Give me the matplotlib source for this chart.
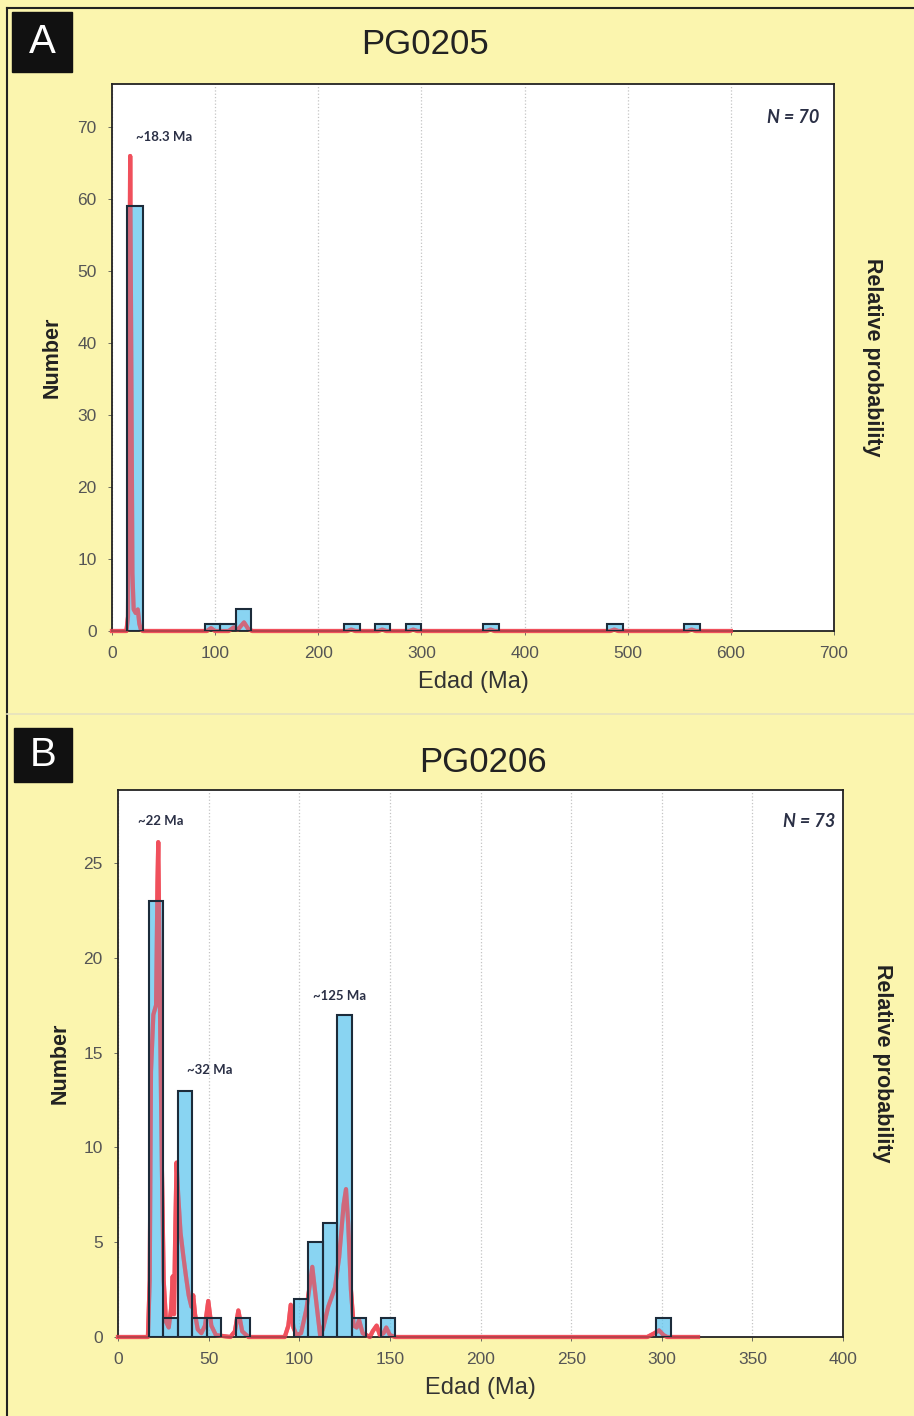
import matplotlib.pyplot as plt
from matplotlib.patches import Rectangle
from matplotlib.lines import Line2D

W, H = 914, 1416

# Panel A - PG0205 (bins of 15 Ma)
a_bin_left = [15, 90, 105, 120, 225, 255, 285, 360, 480, 555]
a_counts = [59, 1, 1, 3, 1, 1, 1, 1, 1, 1]
a_curve_age = [0, 14, 15.5, 16.5, 17.6, 18.8, 19.8, 21, 23, 25, 26.5, 28, 30,
               92, 96, 100, 113, 118, 122, 128, 132, 136,
               228, 232, 236, 258, 262, 266, 288, 292, 296,
               363, 367, 371, 483, 487, 491, 558, 562, 566, 600]
a_curve_prob = [0, 0, 2, 30, 66, 35, 8, 3, 2.5, 3, 1, 0.2, 0,
                0, 0.4, 0, 0, 0.5, 0.2, 1.2, 0.3, 0,
                0, 0.2, 0, 0, 0.2, 0, 0, 0.2, 0,
                0, 0.2, 0, 0, 0.2, 0, 0, 0.2, 0, 0]
a_peak_labels = ["~18.3 Ma"]
a_peak_x = [51]
a_peak_y = [68.7]

# Panel B - PG0206 (bins of 8 Ma)
b_bin_left = [17, 25, 33, 41, 49, 65, 97, 105, 113, 121, 129, 145, 297]
b_counts = [23, 1, 13, 1, 1, 1, 2, 5, 6, 17, 1, 1, 1]
b_curve_age = [0, 16.5, 17.5, 18.2, 19.5, 21, 21.8, 22.2, 22.7, 23.3, 24.2, 25.2,
               26.5, 28, 29.3, 30.2, 30.9, 31.5, 32.3, 33.2, 34.5, 36, 37.5, 39,
               40.5, 41.5, 42.5, 44, 46, 48, 49.8, 51.5, 54, 62, 64.5, 66.4, 68.5,
               72, 92, 94, 95.3, 96.8, 98.5, 101, 104, 107.2, 109.8, 111.5, 113,
               116, 119.7, 122, 124.5, 125.8, 127, 128.5, 130, 131.7, 133, 135,
               139, 140.5, 142.7, 144.5, 146.5, 148, 150, 153, 292, 296, 298.5,
               301, 303, 320]
b_curve_prob = [0, 0, 3, 14, 17, 17.5, 24, 26.1, 22, 16, 9, 3,
                0.8, 0.5, 1.5, 3.2, 1.2, 5, 9.2, 7.5, 5.5, 4.3, 3.2, 2.2,
                1.6, 2.2, 1.2, 0.4, 0.2, 0.6, 1.9, 0.6, 0.1, 0, 0.3, 1.4, 0.3,
                0, 0, 0.6, 1.7, 0.5, 0.1, 0.2, 1.5, 3.7, 1.5, 0.1, 0.4,
                1.6, 2.6, 4.2, 7, 7.8, 6, 2.5, 0.6, 0.5, 0.9, 0.2,
                0, 0.3, 0.6, 0.1, 0.2, 0.5, 0.1, 0, 0, 0.2, 0.35,
                0.1, 0, 0]
b_peak_labels = ["~22 Ma", "~32 Ma", "~125 Ma"]
b_peak_x = [23.5, 50.5, 122.5]
b_peak_y = [27.2, 14.1, 18.0]

BG = '#fbf5ae'
BAR = '#5cc4ee'
RED = '#f0505c'


def px_rect(left, top, right, bottom):
    return [left / W, 1 - bottom / H, (right - left) / W, (bottom - top) / H]


def draw_panel(fig, rect, bin_left, counts, width, age, prob, labels, lx, ly,
               xmax, xstep, ymax, ystep, ytop, ylab_x, xlab_y):
    ax = fig.add_axes(rect)
    ax.set_facecolor('white')
    # curve under the bars, then again over them so it shows pink
    ax.plot(age, prob, color=RED, lw=3, zorder=2, solid_joinstyle='round',
            clip_on=False)
    ax.bar(bin_left, counts, width=width, align='edge', color=BAR, alpha=0.72,
           zorder=3)
    ax.plot(age, prob, color=RED, lw=3, alpha=0.7, zorder=3.5,
            solid_joinstyle='round', clip_on=False)
    ax.bar(bin_left, counts, width=width, align='edge', fill=False,
           edgecolor='#1c2b3a', lw=1.5, zorder=4)

    ax.set_xlim(0, xmax)
    ax.set_ylim(0, ytop)
    ax.set_xticks(range(0, xmax + 1, xstep))
    ax.set_yticks(range(0, ymax + 1, ystep))
    ax.grid(axis='x', color='#c4c4c4', linestyle=':', lw=0.9)
    ax.set_axisbelow(True)
    for s in ax.spines.values():
        s.set_color('#222222')
        s.set_linewidth(1.3)
    ax.tick_params(colors='#555555', labelsize=12.5, length=3, width=0.6)
    ax.tick_params(axis='x', pad=8)
    ax.tick_params(axis='y', pad=8)
    for t in ax.get_xticklabels() + ax.get_yticklabels():
        t.set_family('Liberation Sans')
        t.set_color('#555555')

    ax.set_xlabel('Edad (Ma)', family='Liberation Sans', fontsize=17,
                  color='#333333')
    ax.xaxis.set_label_coords(0.5, xlab_y)
    ax.set_ylabel('Number', family='Liberation Sans', fontsize=15.5,
                  fontweight='bold', color='#222222')
    ax.yaxis.set_label_coords(ylab_x, 0.5)
    ax.text(1.054, 0.5, 'Relative probability', transform=ax.transAxes,
            rotation=-90, ha='center', va='center', family='Liberation Sans',
            fontsize=15.5, fontweight='bold', color='#222222')

    for t, x, y in zip(labels, lx, ly):
        ax.text(x, y, t, ha='center', va='center', family='Lato',
                fontsize=9.5, fontweight='bold', color='#2a2f45')
    return ax


def main():
    fig = plt.figure(figsize=(W / 100, H / 100), dpi=100, facecolor=BG)

    # outer frame and panel separator
    fig.add_artist(Line2D([7 / W, 1], [1 - 8 / H, 1 - 8 / H], color='#222222',
                          lw=1.5))
    fig.add_artist(Line2D([7 / W, 7 / W], [0, 1 - 8 / H], color='#222222',
                          lw=1.5))
    fig.add_artist(Line2D([7 / W, 1], [1 - 714 / H, 1 - 714 / H],
                          color='#e6e1c0', lw=1.2))

    axA = draw_panel(fig, px_rect(112, 84, 834, 631), a_bin_left, a_counts, 15,
                     a_curve_age, a_curve_prob, a_peak_labels, a_peak_x,
                     a_peak_y, 700, 100, 70, 10, 76, -0.068, -0.074)
    axA.text(0.98, 0.938, 'N = 70', transform=axA.transAxes, ha='right',
             va='center', family='Lato', fontsize=13, fontweight='bold',
             style='italic', color='#2a2f45')

    axB = draw_panel(fig, px_rect(118, 790, 843, 1337), b_bin_left, b_counts, 8,
                     b_curve_age, b_curve_prob, b_peak_labels, b_peak_x,
                     b_peak_y, 400, 50, 25, 5, 28.85, -0.066, -0.073)
    axB.text(0.989, 0.9415, 'N = 73', transform=axB.transAxes, ha='right',
             va='center', family='Lato', fontsize=13, fontweight='bold',
             style='italic', color='#2a2f45')

    # titles
    fig.text(425 / W, 1 - 45 / H, 'PG0205', ha='center', va='center',
             family='Liberation Sans', fontsize=25, color='#222222')
    fig.text(483 / W, 1 - 762 / H, 'PG0206', ha='center', va='center',
             family='Liberation Sans', fontsize=25, color='#222222')

    # panel letters
    for letter, (l, t, r, b) in [('A', (12, 12, 72, 72)), ('B', (14, 728, 72, 782))]:
        fig.add_artist(Rectangle((l / W, 1 - b / H), (r - l) / W, (b - t) / H,
                                 transform=fig.transFigure, color='#111111'))
        fig.text((l + r) / 2 / W, 1 - (t + b) / 2 / H, letter, ha='center',
                 va='center', family='Liberation Sans', fontsize=29,
                 color='white')

    fig.savefig('out.png', dpi=100, facecolor=BG)


if __name__ == "__main__":
    main()
